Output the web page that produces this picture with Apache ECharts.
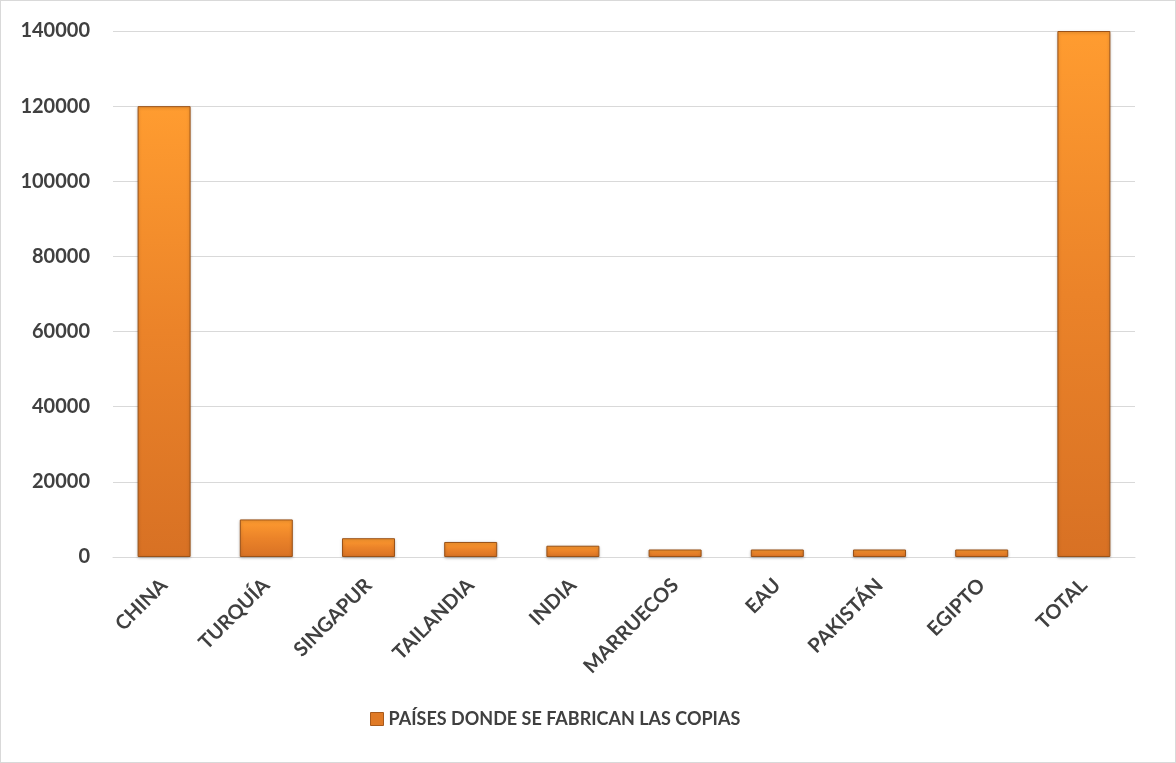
<!DOCTYPE html>
<html>
<head>
<meta charset="utf-8">
<script src="https://cdn.jsdelivr.net/npm/echarts@6/dist/echarts.min.js"></script>
<style>
html,body{margin:0;padding:0;background:#fff;}
#wrap{position:absolute;left:0;top:0;width:1174px;height:761px;border:1px solid #d9d9d9;}
#chart{width:1176px;height:763px;position:absolute;left:0;top:0;}
</style>
</head>
<body>
<div id="wrap"></div>
<div id="chart"></div>
<script>
const categories = ['CHINA','TURQUÍA','SINGAPUR','TAILANDIA','INDIA','MARRUECOS','EAU','PAKISTÁN','EGIPTO','TOTAL'];
const values = [120000,10000,5000,4000,3000,2000,2000,2000,2000,140000];
const seriesName = 'PAÍSES DONDE SE FABRICAN LAS COPIAS';
const yTicks = [0,20000,40000,60000,80000,100000,120000,140000];

const font = 'Lato, "Open Sans", sans-serif';
const chart = echarts.init(document.getElementById('chart'));
const barColor = new echarts.graphic.LinearGradient(0,0,0,1,[
  {offset:0,color:'#FF9C30'},
  {offset:0.5,color:'#EB8329'},
  {offset:1,color:'#D87124'}
]);
chart.setOption({
  animation:false,
  grid:{left:113,right:41,top:31,bottom:206,containLabel:false},
  legend:{
    bottom:30,left:365,
    itemWidth:13,itemHeight:13,itemGap:4,
    icon:'rect',
    itemStyle:{color:'#E07A26',borderColor:'#A85A1C',borderWidth:1},
    textStyle:{fontFamily:font,fontWeight:'bold',fontSize:18,color:'#404040'},
    data:[seriesName]
  },
  xAxis:{
    type:'category',
    data:categories,
    axisLine:{lineStyle:{color:'#d9d9d9',width:1}},
    axisTick:{show:false},
    axisLabel:{rotate:45,interval:0,margin:25,fontFamily:font,fontWeight:'bold',fontSize:20,color:'#404040'}
  },
  yAxis:{
    type:'value',min:0,max:yTicks[yTicks.length-1],interval:yTicks[1]-yTicks[0],
    axisLine:{show:false},axisTick:{show:false},
    splitLine:{lineStyle:{color:'#d9d9d9',width:1}},
    axisLabel:{margin:23,fontFamily:font,fontWeight:'bold',fontSize:20,color:'#404040',
      formatter:function(v){return String(v);}}
  },
  series:[{
    name:seriesName,
    type:'bar',
    data:values,
    barWidth:53,
    itemStyle:{
      color:barColor,
      borderColor:'#9A5218',
      borderWidth:1,
      shadowColor:'rgba(0,0,0,0.25)',
      shadowBlur:3,
      shadowOffsetY:1
    }
  }]
});
</script>
</body>
</html>
